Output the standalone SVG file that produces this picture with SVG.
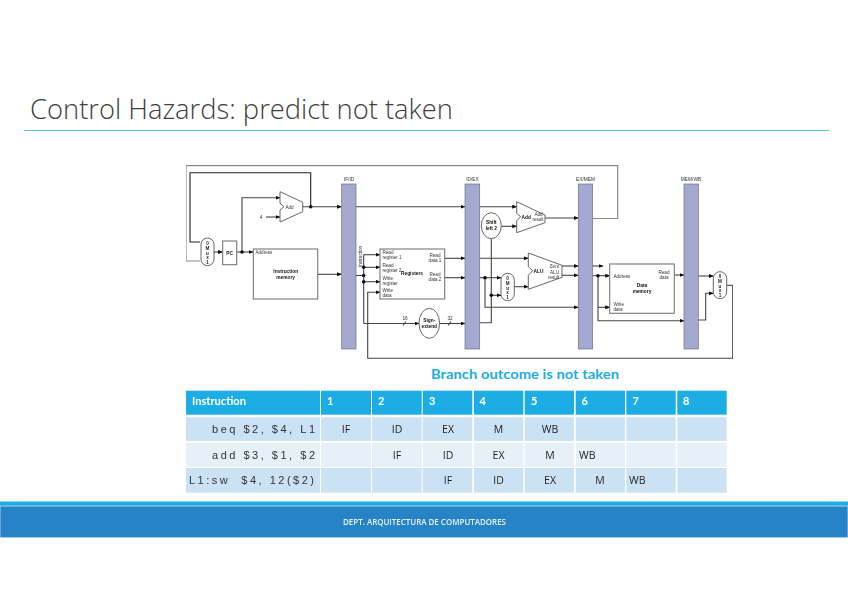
<svg xmlns="http://www.w3.org/2000/svg" width="848" height="599" viewBox="0 0 848 599">
<style>
text{font-family:"Liberation Sans",Arial,sans-serif;fill:#333}
.title{font-family:"Open Sans","Liberation Sans",sans-serif;font-weight:300;font-size:28px;fill:#404040}
.bar{fill:#a4a9d1;stroke:#6f6f7f;stroke-width:.7}
.box{fill:#fff;stroke:#777;stroke-width:1.1}
.unit{fill:#fff;stroke:#666;stroke-width:1}
.s{font-size:4.6px;fill:#333}
.b{font-size:4.8px;font-weight:bold;fill:#111}
.m{font-size:4.6px;font-weight:bold;fill:#222;text-anchor:middle}
.c{text-anchor:middle}
.lab{font-size:4.8px;fill:#333;text-anchor:middle}
.w{fill:none;stroke:#222;stroke-width:1.1}
.g{fill:none;stroke:#888;stroke-width:1.2}
.k{fill:none;stroke:#444;stroke-width:1.1;marker-end:url(#a)}
.kn{fill:none;stroke:#444;stroke-width:1.1}
.d{fill:#111}
.hd{fill:#1cade4}.r1{fill:#cbe1f4}.r2{fill:#e6f0f9}
.ht{font-family:"Lato","Liberation Sans",sans-serif;font-weight:bold;font-size:11px;fill:#fff}
.mono{font-family:"Liberation Sans",sans-serif;font-size:11px;fill:#333}
.ct{font-family:"Open Sans","Liberation Sans",sans-serif;font-size:10.5px;fill:#222;text-anchor:middle}
.cl{font-family:"Open Sans","Liberation Sans",sans-serif;font-size:10.5px;fill:#222}
</style>
<defs>
<marker id="a" markerUnits="userSpaceOnUse" markerWidth="5" markerHeight="4" refX="4.5" refY="2" orient="auto"><path d="M0 0L5 2L0 4Z" fill="#111"/></marker>
<filter id="soft" x="0" y="0" width="1" height="1"><feGaussianBlur stdDeviation="0.5"/></filter>
<filter id="soft2" x="0" y="0" width="1" height="1"><feGaussianBlur stdDeviation="0.3"/></filter>
</defs>
<rect width="848" height="599" fill="#fff"/>
<g id="title">
<text class="title" x="30" y="119" textLength="423" lengthAdjust="spacingAndGlyphs">Control Hazards: predict not taken</text>
<rect x="24" y="130" width="805" height="1" fill="#4fc0e8"/>
</g>
<g id="datapath" filter="url(#soft)">
<g id="connectors">
<path class="g" d="M592.7 218.5H617.7V165.7H186V261H200"/>
<path class="w" d="M310.7 206.7V172.7H190V242H200"/>
<path class="k" d="M214 252H222.5"/>
<path class="k" d="M236.7 252H253"/>
<path class="k" d="M242 252V197.7H280"/>
<path class="k" d="M266 217H280"/>
<path class="k" d="M302.7 206.7H341.5"/>
<path class="k" d="M317.7 274.3H341.5"/>
<path class="kn" d="M356 275.5H363.7"/>
<path class="k" d="M363.7 254.7H380"/>
<path class="k" d="M363.7 267.3H380"/>
<path class="k" d="M363.7 281.7H380"/>
<path class="kn" d="M363.7 254.7V323.5"/>
<path class="k" d="M363.7 323.5H419"/>
<path class="k" d="M439.7 323.5H465"/>
<path class="k" d="M732.7 285.3V358.3H367.7V292.3H380"/>
<path class="kn" d="M726.7 285.3H732.7"/>
<path class="k" d="M356 206.7H465"/>
<path class="k" d="M444.7 258.3H465"/>
<path class="k" d="M444.7 277.7H465"/>
<path class="k" d="M479.7 206.7H516.7"/>
<path class="k" d="M501.3 226.3H516.7"/>
<path class="kn" d="M479.7 322.7H491.3V238.7"/>
<path class="k" d="M545 218H578.3"/>
<path class="k" d="M479.7 258.3H528.3"/>
<path class="k" d="M479.7 277.7H501"/>
<path class="k" d="M485 277.7V307.3H578.3"/>
<path class="k" d="M491.3 295.3H501"/>
<path class="k" d="M514.3 286.7H528.3"/>
<path class="k" d="M562 266H578.3"/>
<path class="k" d="M562 275.3H578.3"/>
<path class="k" d="M592.7 266H603"/>
<path class="k" d="M592.7 275.7H609.7"/>
<path class="k" d="M598 275.7V320.7H684"/>
<path class="k" d="M598 307.3H609.7"/>
<path class="k" d="M674.3 275H684"/>
<path class="k" d="M698.3 276H713.3"/>
<path class="k" d="M698.3 320H705.7V293.3H713.3"/>
<path class="kn" d="M403 325.5L406 321.5M448 325.5L451 321.5"/>
<circle class="d" cx="310.7" cy="206.7" r="1.8"/>
<circle class="d" cx="242" cy="252" r="1.8"/>
<circle class="d" cx="363.7" cy="267.3" r="1.8"/>
<circle class="d" cx="363.7" cy="275.5" r="1.8"/>
<circle class="d" cx="363.7" cy="281.7" r="1.8"/>
<circle class="d" cx="485" cy="277.7" r="1.8"/>
<circle class="d" cx="491.3" cy="295.3" r="1.8"/>
<circle class="d" cx="598" cy="275.7" r="1.8"/>
</g>
<g id="if-id"><rect class="bar" x="341.7" y="184" width="14.3" height="165"/><text class="lab" x="349" y="180.5">IF/ID</text></g>
<g id="id-ex"><rect class="bar" x="465" y="184" width="14.7" height="165"/><text class="lab" x="472.5" y="180.5">ID/EX</text></g>
<g id="ex-mem"><rect class="bar" x="578.3" y="184" width="14.4" height="165"/><text class="lab" x="585.5" y="180.500">EX/MEM</text></g>
<g id="mem-wb"><rect class="bar" x="684" y="184" width="14.3" height="165"/><text class="lab" x="691" y="180.5">MEM/WB</text></g>
<g id="mux-pc"><rect class="unit" x="201" y="238" width="13" height="27.7" rx="6.5"/><text class="m" x="207.5" y="244.5">0</text><text class="m" x="207.5" y="249.500">M</text><text class="m" x="207.5" y="254.5">u</text><text class="m" x="207.5" y="259">x</text><text class="m" x="207.5" y="263.5">1</text></g>
<g id="pc"><rect class="box" x="222.7" y="241" width="14" height="23.7"/><text class="b c" x="229.7" y="254.5">PC</text></g>
<g id="add-pc"><path class="unit" d="M280 191.7L302.7 202.3V211.7L280 222V210L284 206.7L280 203.3Z"/><text class="s" x="285.5" y="208.5">Add</text><text class="s c" x="261" y="218.5">4</text></g>
<g id="instruction-memory"><rect class="box" x="253.3" y="249" width="64.4" height="50"/><text class="s" x="255.5" y="253.5">Address</text><text class="b c" x="285.7" y="273">Instruction</text><text class="b c" x="285.7" y="278.5">memory</text></g>
<g id="instruction-label"><text class="s c" transform="translate(361.5 256.5) rotate(-90)">Instruction</text></g>
<g id="registers"><rect class="box" x="380" y="249" width="64.7" height="50"/>
<text class="s" x="382.5" y="254">Read</text><text class="s" x="382.5" y="259">register 1</text>
<text class="s" x="382.5" y="266.5">Read</text><text class="s" x="382.5" y="271.5">register 2</text>
<text class="s" x="382.5" y="280">Write</text><text class="s" x="382.5" y="285">register</text>
<text class="s" x="382.5" y="292">Write</text><text class="s" x="382.5" y="297">data</text>
<text class="b c" x="412" y="275">Registers</text>
<text class="s c" x="435" y="257">Read</text><text class="s c" x="435" y="262">data 1</text>
<text class="s c" x="435" y="276">Read</text><text class="s c" x="435" y="281">data 2</text></g>
<g id="sign-extend"><ellipse class="unit" cx="429.3" cy="323.3" rx="10.3" ry="15"/><text class="b c" x="429.3" y="322">Sign-</text><text class="b c" x="429.3" y="327.5">extend</text><text class="s c" x="405" y="320">16</text><text class="s c" x="450" y="320">32</text></g>
<g id="add-branch"><path class="unit" d="M516.7 201.7L545 215V222.7L516.7 232.7V220.7L520.7 216.7L516.7 213.3Z"/><text class="b" x="521.5" y="218.5">Add</text><text class="s c" x="538.5" y="216">Add</text><text class="s c" x="538" y="221">result</text></g>
<g id="shift-left"><ellipse class="unit" cx="491.3" cy="225.7" rx="10" ry="13"/><text class="b c" x="491.3" y="224">Shift</text><text class="b c" x="491.3" y="229.5">left 2</text></g>
<g id="alu"><path class="unit" d="M528.3 253L562 265.3V277.3L528.3 289.3V275.3L532.7 270.7L528.3 266.7Z"/><text class="b" x="533.5" y="272.5">ALU</text><text class="s c" x="554.5" y="268">Zero</text><text class="s c" x="554.5" y="273.5">ALU</text><text class="s c" x="553.5" y="279">result</text></g>
<g id="mux-alu"><rect class="unit" x="501" y="273.3" width="13.3" height="27.4" rx="6.6"/><text class="m" x="507.6" y="279.5">0</text><text class="m" x="507.6" y="284.5">M</text><text class="m" x="507.6" y="289.5">u</text><text class="m" x="507.6" y="294">x</text><text class="m" x="507.6" y="298.5">1</text></g>
<g id="data-memory"><rect class="box" x="609.7" y="264" width="64.6" height="49.3"/><text class="s" x="613.5" y="277.5">Address</text><text class="s c" x="664" y="274">Read</text><text class="s c" x="664" y="279">data</text><text class="b c" x="642" y="287">Data</text><text class="b c" x="642" y="292.5">memory</text><text class="s" x="613.5" y="306">Write</text><text class="s" x="613.5" y="311">data</text></g>
<g id="mux-wb"><rect class="unit" x="713.3" y="271.7" width="13.4" height="27" rx="6.7"/><text class="m" x="720" y="277.5">0</text><text class="m" x="720" y="282.5">M</text><text class="m" x="720" y="287.5">u</text><text class="m" x="720" y="292">x</text><text class="m" x="720" y="296.5">1</text></g>
</g>
<g id="caption"><text x="431" y="379" textLength="188" lengthAdjust="spacingAndGlyphs" style="font-family:'Lato','Liberation Sans',sans-serif;font-weight:bold;font-size:13.5px;fill:#1cade4">Branch outcome is not taken</text></g>
<g id="table">
<g class="hd"><rect x="186" y="390.7" width="134" height="24"/><rect x="321" y="390.7" width="50" height="24"/><rect x="372" y="390.7" width="49.7" height="24"/><rect x="422.7" y="390.7" width="49.6" height="24"/><rect x="474" y="390.7" width="49.3" height="24"/><rect x="524.7" y="390.7" width="49.3" height="24"/><rect x="575.7" y="390.7" width="49.3" height="24"/><rect x="626.3" y="390.7" width="49.4" height="24"/><rect x="677.3" y="390.7" width="49.4" height="24"/></g>
<g class="r1"><rect x="186" y="417.3" width="134" height="23.7"/><rect x="321" y="417.3" width="50" height="23.7"/><rect x="372" y="417.3" width="49.7" height="23.7"/><rect x="422.7" y="417.3" width="49.6" height="23.7"/><rect x="474" y="417.3" width="49.3" height="23.7"/><rect x="524.7" y="417.3" width="49.3" height="23.7"/><rect x="575.7" y="417.3" width="49.3" height="23.7"/><rect x="626.3" y="417.3" width="49.4" height="23.7"/><rect x="677.3" y="417.3" width="49.4" height="23.7"/></g>
<g class="r2"><rect x="186" y="442.7" width="134" height="24.3"/><rect x="321" y="442.7" width="50" height="24.3"/><rect x="372" y="442.7" width="49.7" height="24.3"/><rect x="422.7" y="442.7" width="49.6" height="24.3"/><rect x="474" y="442.7" width="49.3" height="24.3"/><rect x="524.7" y="442.7" width="49.3" height="24.3"/><rect x="575.7" y="442.7" width="49.3" height="24.3"/><rect x="626.3" y="442.7" width="49.4" height="24.3"/><rect x="677.3" y="442.7" width="49.4" height="24.3"/></g>
<g class="r1"><rect x="186" y="468" width="134" height="24.7"/><rect x="321" y="468" width="50" height="24.7"/><rect x="372" y="468" width="49.7" height="24.7"/><rect x="422.7" y="468" width="49.6" height="24.7"/><rect x="474" y="468" width="49.3" height="24.7"/><rect x="524.7" y="468" width="49.3" height="24.7"/><rect x="575.7" y="468" width="49.3" height="24.7"/><rect x="626.3" y="468" width="49.4" height="24.7"/><rect x="677.3" y="468" width="49.4" height="24.7"/></g>
<g filter="url(#soft2)">
<text class="ht" x="192" y="404.5" textLength="54" lengthAdjust="spacingAndGlyphs">Instruction</text>
<text class="ht" x="327" y="404.5">1</text><text class="ht" x="378" y="404.5">2</text><text class="ht" x="429" y="404.5">3</text><text class="ht" x="479.5" y="404.5">4</text><text class="ht" x="531" y="404.5">5</text><text class="ht" x="581.5" y="404.5">6</text><text class="ht" x="632.5" y="404.5">7</text><text class="ht" x="683" y="404.5">8</text>
<text class="mono" x="212" y="432.5" textLength="103" xml:space="preserve">beq $2, $4, L1</text>
<text class="mono" x="212" y="458.5" textLength="103" xml:space="preserve">add $3, $1, $2</text>
<text class="mono" x="189" y="484" textLength="125" xml:space="preserve">L1:sw  $4, 12($2)</text>
<text class="ct" x="346" y="432.5">IF</text><text class="ct" x="397" y="432.5">ID</text><text class="ct" x="448" y="432.5">EX</text><text class="ct" x="498.5" y="432.5">M</text><text class="ct" x="550" y="432.5">WB</text>
<text class="ct" x="397" y="458.5">IF</text><text class="ct" x="448" y="458.5">ID</text><text class="ct" x="498.5" y="458.5">EX</text><text class="ct" x="550" y="458.5">M</text><text class="cl" x="579" y="458.5">WB</text>
<text class="ct" x="448" y="484">IF</text><text class="ct" x="498.5" y="484">ID</text><text class="ct" x="550" y="484">EX</text><text class="ct" x="600" y="484">M</text><text class="cl" x="629" y="484">WB</text>
</g>
</g>
<g id="footer">
<rect x="0" y="501.5" width="848" height="5" fill="#1cade4"/>
<rect x="0" y="506" width="848" height="31.5" fill="#2683c6" stroke="#a9cfe9" stroke-width="1"/>
<text x="424.5" y="525" text-anchor="middle" textLength="163" lengthAdjust="spacingAndGlyphs" filter="url(#soft2)" style="font-family:'Open Sans','Liberation Sans',sans-serif;font-size:8px;font-weight:600;fill:#e8f2fa">DEPT. ARQUITECTURA DE COMPUTADORES</text>
</g>
</svg>
